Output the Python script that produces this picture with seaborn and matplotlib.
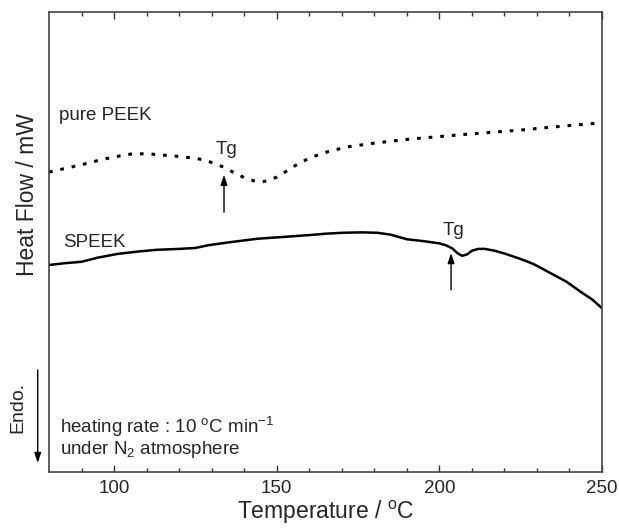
import numpy as np
import pandas as pd
import matplotlib
matplotlib.use("Agg")
import matplotlib.pyplot as plt
import seaborn as sns

# ---- data ----
peek_T = [80, 85, 90, 95, 100, 105, 110, 115, 120, 125, 128, 131, 134, 137, 140,
          143, 145, 147, 150, 153, 157, 161, 166, 172, 180, 190, 198, 208, 217,
          226, 235, 243, 250]
peek_hf = [65.2, 66.0, 66.8, 67.7, 68.5, 69.1, 69.2, 68.9, 68.6, 68.2, 67.8, 67.0,
           66.2, 65.0, 64.0, 63.3, 63.0, 63.3, 64.1, 65.4, 67.2, 68.5, 69.7, 70.7,
           71.5, 72.3, 72.8, 73.4, 73.9, 74.4, 75.0, 75.5, 75.9]

speek_T = [80, 85, 90, 95, 101, 107, 113, 120, 125, 129, 135, 144, 152, 160, 165,
           170, 176, 181, 185, 190, 195, 200, 202, 204, 205.5, 207, 208.5, 210,
           212, 214, 217, 220, 225, 229, 234, 239, 244, 247, 250]
speek_hf = [45.0, 45.4, 45.7, 46.6, 47.4, 47.9, 48.3, 48.5, 48.7, 49.3, 49.9, 50.7,
            51.1, 51.5, 51.8, 52.0, 52.1, 52.0, 51.6, 50.6, 50.2, 49.7, 49.3, 48.6,
            47.6, 47.0, 47.3, 48.1, 48.5, 48.5, 48.1, 47.5, 46.3, 45.2, 43.3, 41.4,
            38.9, 37.5, 35.6]

tg_peek = 133.8
tg_speek = 203.6
major_ticks = [100, 150, 200, 250]

# ---- style ----
sns.set_style("white")
plt.rcParams['font.family'] = ['Liberation Sans', 'DejaVu Sans']
plt.rcParams['mathtext.fontset'] = 'custom'
plt.rcParams['mathtext.rm'] = 'Liberation Sans'
plt.rcParams['mathtext.it'] = 'Liberation Sans:italic'
plt.rcParams['mathtext.default'] = 'regular'

fig = plt.figure(figsize=(6.19, 5.28), dpi=100)
ax = fig.add_axes([49/619, 1 - 472/528, 553/619, 460/528])

df_peek = pd.DataFrame({"T": peek_T, "hf": peek_hf})
df_speek = pd.DataFrame({"T": speek_T, "hf": speek_hf})

sns.lineplot(data=df_peek, x="T", y="hf", ax=ax, color="black", lw=2.2,
             linestyle=(0, (1.2, 2.6)), sort=False)
sns.lineplot(data=df_speek, x="T", y="hf", ax=ax, color="black", lw=1.8, sort=False)

ax.set_xlim(80, 250)
ax.set_ylim(0, 100)

ax.set_xticks(major_ticks)
ax.set_xticks(np.arange(90, 250, 10), minor=True)
ax.set_yticks([])
ax.tick_params(axis='x', which='major', direction='in', length=5, width=1,
               top=True, bottom=True, labelsize=13.5, pad=6, color='#333333')
ax.tick_params(axis='x', which='minor', direction='in', length=3, width=1,
               top=True, bottom=True, color='#333333')
for s in ax.spines.values():
    s.set_visible(True)
    s.set_color('#444444')
    s.set_linewidth(1.2)

ax.set_xlabel("Temperature / $^{\\mathrm{o}}$C", fontsize=16.5, labelpad=1)
ax.set_ylabel("")
fig.text(27/619, 1 - 195/528, "Heat Flow / mW", rotation=90, fontsize=16.5,
         ha='center', va='center')

# annotations
ax.text(83.1, 77.6, "pure PEEK", fontsize=13.5, ha='left', va='center')
ax.text(84.3, 49.8, "SPEEK", fontsize=13.5, ha='left', va='center')
ax.text(134.6, 70.2, "Tg", fontsize=13.5, ha='center', va='center')
ax.text(204.2, 52.6, "Tg", fontsize=13.5, ha='center', va='center')

arrow_kw = dict(arrowstyle='-|>,head_length=0.6,head_width=0.2', color='black', lw=1.0,
                shrinkA=0, shrinkB=0)
ax.annotate("", xy=(tg_peek, 64.6), xytext=(tg_peek, 56.5), arrowprops=arrow_kw)
ax.annotate("", xy=(tg_speek, 47.6), xytext=(tg_speek, 39.6), arrowprops=arrow_kw)

ax.text(83.3, 9.9, "heating rate : 10 $^{\\mathrm{o}}$C min$^{-1}$", fontsize=13.5,
        ha='left', va='center')
ax.text(83.3, 4.9, "under N$_{2}$ atmosphere", fontsize=13.5, ha='left', va='center')

# Endo arrow outside axes
ax.annotate("", xy=(-0.0204, 0.0196), xytext=(-0.0204, 0.222),
            xycoords='axes fraction', textcoords='axes fraction',
            arrowprops=arrow_kw, annotation_clip=False)
ax.text(-0.056, 0.141, "Endo.", rotation=90, fontsize=14, ha='center', va='center',
        transform=ax.transAxes)

fig.savefig("out.png", dpi=100)
